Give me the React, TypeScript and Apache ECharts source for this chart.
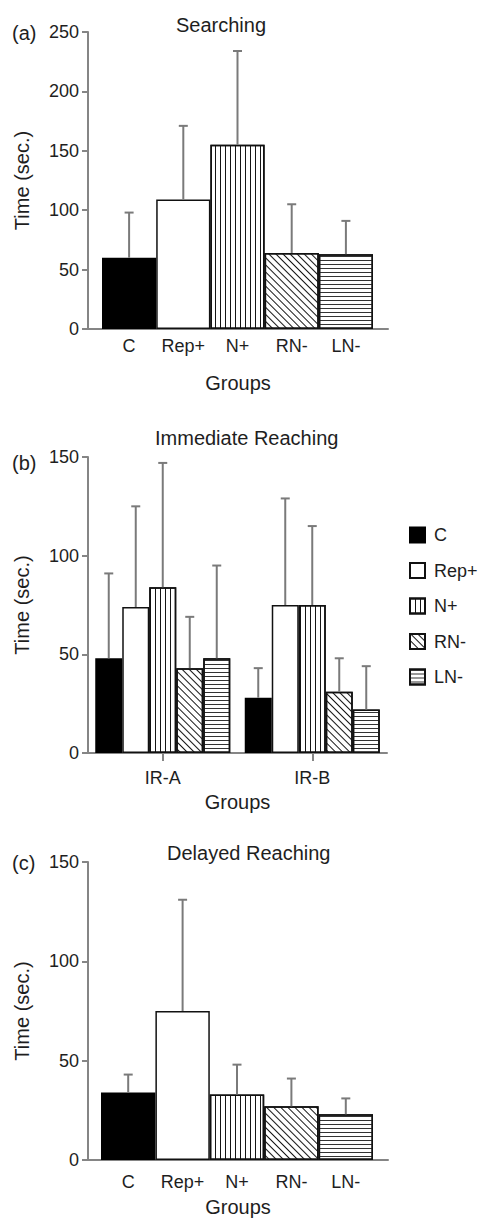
import React, { useEffect, useRef } from "react";
import * as echarts from "echarts";

// ---------- data ----------
const groupNames = ["C", "Rep+", "N+", "RN-", "LN-"];

// (a) Searching
const searchMean = [60, 109, 155, 64, 63];
const searchErrTop = [98, 171, 234, 105, 91];

// (b) Immediate Reaching
const irCats = ["IR-A", "IR-B"];
const irMean = {
  C: [48, 28],
  "Rep+": [74, 75],
  "N+": [84, 75],
  "RN-": [43, 31],
  "LN-": [48, 22],
};
const irErrTop = {
  C: [91, 43],
  "Rep+": [125, 129],
  "N+": [147, 115],
  "RN-": [69, 48],
  "LN-": [95, 44],
};

// (c) Delayed Reaching
const delayMean = [34, 75, 33, 27, 23];
const delayErrTop = [43, 131, 48, 41, 31];

const yTicksA = { min: 0, max: 250, interval: 50 };
const yTicksBC = { min: 0, max: 150, interval: 50 };

// ---------- styles ----------
const FONT = "Liberation Sans";
const AXIS = "#858585";
const ERR = "#7a7a7a";
const TXT = "#1e1e1e";

const decalV = {
  symbol: "rect",
  symbolSize: 1,
  symbolKeepAspect: false,
  color: "#151515",
  dashArrayX: [1, 4],
  dashArrayY: [4, 0],
  rotation: 0,
};
const decalD = { ...decalV, dashArrayX: [1, 4], rotation: -Math.PI / 4 };
const decalH = { ...decalV, color: "#333", dashArrayX: [4, 0], dashArrayY: [1, 3] };

const groupStyle: Record<string, any> = {
  C: { color: "#000", borderColor: "#000", borderWidth: 1.5 },
  "Rep+": { color: "#fff", borderColor: "#111", borderWidth: 1.5 },
  "N+": { color: "#fff", borderColor: "#111", borderWidth: 1.5, decal: decalV },
  "RN-": { color: "#fff", borderColor: "#111", borderWidth: 1.5, decal: decalD },
  "LN-": { color: "#fff", borderColor: "#111", borderWidth: 1.5, decal: decalH },
};

const errSeries = (
  xAxisIndex: number,
  yAxisIndex: number,
  means: number[],
  tops: number[],
  offset: number
) => ({
  type: "custom",
  xAxisIndex,
  yAxisIndex,
  z: 4,
  silent: true,
  data: means.map((m, i) => [i, m, tops[i]]),
  renderItem: (_p: any, api: any) => {
    const i = api.value(0);
    const base = api.coord([i, api.value(1)]);
    const top = api.coord([i, api.value(2)]);
    const cx = base[0] + offset;
    const st = { stroke: ERR, lineWidth: 2 };
    return {
      type: "group",
      children: [
        { type: "line", shape: { x1: cx, y1: base[1], x2: cx, y2: top[1] }, style: st },
        { type: "line", shape: { x1: cx - 4.5, y1: top[1], x2: cx + 4.5, y2: top[1] }, style: st },
      ],
    };
  },
});

const valueYAxis = (gridIndex: number, ticks: any, show: boolean) => ({
  type: "value",
  gridIndex,
  ...ticks,
  show,
  name: show ? "Time (sec.)" : "",
  nameLocation: "middle",
  nameGap: 56,
  nameTextStyle: { fontSize: 20, color: TXT, fontFamily: FONT },
  axisLine: { show: true, lineStyle: { color: AXIS, width: 2 } },
  axisTick: { show: true, length: 6, lineStyle: { color: AXIS, width: 2 } },
  axisLabel: { margin: 9, fontSize: 18, color: TXT, fontFamily: FONT },
  splitLine: { show: false },
});

const lineXAxis = (gridIndex: number, nameGap: number) => ({
  type: "value",
  gridIndex,
  min: 0,
  max: 1,
  name: "Groups",
  nameLocation: "middle",
  nameGap,
  nameTextStyle: { fontSize: 20, color: TXT, fontFamily: FONT, verticalAlign: "top" },
  axisLine: { show: true, onZero: false, lineStyle: { color: AXIS, width: 2 } },
  axisTick: { show: false },
  axisLabel: { show: false },
  splitLine: { show: false },
});

const catXAxis = (gridIndex: number, margin: number) => ({
  type: "category",
  gridIndex,
  data: groupNames,
  axisLine: { show: false },
  axisTick: { show: false },
  axisLabel: { interval: 0, margin, fontSize: 18, color: TXT, fontFamily: FONT },
  splitLine: { show: false },
});

export default function App() {
  const ref = useRef<HTMLDivElement>(null);

  useEffect(() => {
    document.body.style.margin = "0";
    const chart = echarts.init(ref.current!, null, { renderer: "svg" });

    const series: any[] = [];

    // (a)
    series.push({
      type: "bar",
      name: "Searching",
      xAxisIndex: 1,
      yAxisIndex: 1,
      barCategoryGap: "0%",
      data: searchMean.map((v, i) => ({ value: v, itemStyle: groupStyle[groupNames[i]] })),
    });
    series.push(errSeries(1, 1, searchMean, searchErrTop, 0));

    // (b)
    groupNames.forEach((g) => {
      series.push({
        type: "bar",
        name: g,
        xAxisIndex: 2,
        yAxisIndex: 2,
        barWidth: 27,
        barGap: "0%",
        itemStyle: groupStyle[g],
        data: (irMean as any)[g],
      });
    });
    groupNames.forEach((g, k) => {
      series.push(errSeries(2, 2, (irMean as any)[g], (irErrTop as any)[g], (k - 2) * 27));
    });

    // (c)
    series.push({
      type: "bar",
      name: "Delayed Reaching",
      xAxisIndex: 4,
      yAxisIndex: 4,
      barCategoryGap: "0%",
      data: delayMean.map((v, i) => ({ value: v, itemStyle: groupStyle[groupNames[i]] })),
    });
    series.push(errSeries(4, 4, delayMean, delayErrTop, 0));

    const txt = (text: string, x: number, y: number, size = 20) => ({
      type: "text",
      x,
      y,
      style: {
        text,
        fill: TXT,
        font: `${size}px "${FONT}"`,
        align: "left",
        verticalAlign: "middle",
      },
    });

    chart.setOption({
      animation: false,
      textStyle: { fontFamily: FONT },
      grid: [
        { left: 88, top: 32, width: 300, height: 297 },
        { left: 102, top: 32, width: 271, height: 297 },
        { left: 88, top: 457, width: 299, height: 296 },
        { left: 88, top: 862, width: 300, height: 298 },
        { left: 101, top: 862, width: 272, height: 298 },
      ],
      xAxis: [
        lineXAxis(0, 44),
        catXAxis(1, 8),
        {
          type: "category",
          gridIndex: 2,
          data: irCats,
          name: "Groups",
          nameLocation: "middle",
          nameGap: 39,
          nameTextStyle: { fontSize: 20, color: TXT, fontFamily: FONT, verticalAlign: "top" },
          axisLine: { show: true, lineStyle: { color: AXIS, width: 2 } },
          axisTick: { show: true, alignWithLabel: true, length: 8, lineStyle: { color: AXIS, width: 2 } },
          axisLabel: { margin: 16, fontSize: 18, color: TXT, fontFamily: FONT },
        },
        lineXAxis(3, 37),
        catXAxis(4, 13),
      ],
      yAxis: [
        valueYAxis(0, yTicksA, true),
        valueYAxis(1, yTicksA, false),
        valueYAxis(2, yTicksBC, true),
        valueYAxis(3, yTicksBC, true),
        valueYAxis(4, yTicksBC, false),
      ],
      legend: {
        data: groupNames,
        orient: "vertical",
        left: 409,
        top: 526,
        padding: 0,
        icon: "rect",
        itemWidth: 15,
        itemHeight: 15,
        itemGap: 17.5,
        textStyle: { fontSize: 18, color: TXT, fontFamily: FONT, padding: [0, 0, 0, 4] },
        selectedMode: false,
      },
      graphic: [
        txt("(a)", 12, 33),
        txt("Searching", 176, 25),
        txt("(b)", 12, 463),
        txt("Immediate Reaching", 155, 438),
        txt("(c)", 12, 863),
        txt("Delayed Reaching", 167, 853),
      ],
      series,
    });

    return () => chart.dispose();
  }, []);

  return <div ref={ref} style={{ width: 484, height: 1218 }} />;
}
